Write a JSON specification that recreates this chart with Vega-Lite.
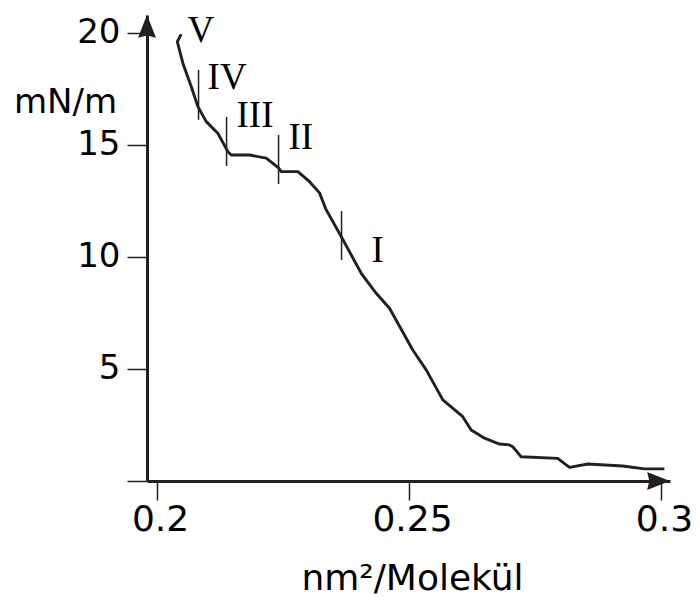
{
  "$schema": "https://vega.github.io/schema/vega-lite/v6.json",
  "autosize": "none",
  "width": 523,
  "height": 466,
  "padding": {"left": 147, "top": 15, "right": 30, "bottom": 116},
  "background": "white",
  "config": {"view": {"stroke": null}},
  "datasets": {
    "curve": [
      {"i": 1, "x": 0.20480, "y": 19.94},
      {"i": 2, "x": 0.20401, "y": 19.61},
      {"i": 3, "x": 0.20512, "y": 18.65},
      {"i": 4, "x": 0.20679, "y": 17.60},
      {"i": 5, "x": 0.20810, "y": 16.71},
      {"i": 6, "x": 0.20976, "y": 16.04},
      {"i": 7, "x": 0.21206, "y": 15.52},
      {"i": 8, "x": 0.21405, "y": 14.70},
      {"i": 9, "x": 0.21472, "y": 14.55},
      {"i": 10, "x": 0.21835, "y": 14.55},
      {"i": 11, "x": 0.22167, "y": 14.41},
      {"i": 12, "x": 0.22417, "y": 13.96},
      {"i": 13, "x": 0.22464, "y": 13.81},
      {"i": 14, "x": 0.22794, "y": 13.81},
      {"i": 15, "x": 0.23026, "y": 13.36},
      {"i": 16, "x": 0.23224, "y": 12.86},
      {"i": 17, "x": 0.23357, "y": 12.10},
      {"i": 18, "x": 0.23655, "y": 10.91},
      {"i": 19, "x": 0.24052, "y": 9.27},
      {"i": 20, "x": 0.24349, "y": 8.38},
      {"i": 21, "x": 0.24613, "y": 7.71},
      {"i": 22, "x": 0.25075, "y": 5.85},
      {"i": 23, "x": 0.25341, "y": 4.96},
      {"i": 24, "x": 0.25671, "y": 3.62},
      {"i": 25, "x": 0.26067, "y": 2.87},
      {"i": 26, "x": 0.26234, "y": 2.28},
      {"i": 27, "x": 0.26498, "y": 1.91},
      {"i": 28, "x": 0.26796, "y": 1.65},
      {"i": 29, "x": 0.26994, "y": 1.61},
      {"i": 30, "x": 0.27060, "y": 1.53},
      {"i": 31, "x": 0.27226, "y": 1.08},
      {"i": 32, "x": 0.27952, "y": 1.01},
      {"i": 33, "x": 0.28185, "y": 0.61},
      {"i": 34, "x": 0.28548, "y": 0.76},
      {"i": 35, "x": 0.29242, "y": 0.67},
      {"i": 36, "x": 0.29673, "y": 0.54},
      {"i": 37, "x": 0.30069, "y": 0.54}
    ],
    "markers": [
      {"x": 0.20823, "y": 18.35, "y2": 16.12},
      {"x": 0.21379, "y": 16.25, "y2": 14.06},
      {"x": 0.22411, "y": 15.45, "y2": 13.26},
      {"x": 0.23661, "y": 12.05, "y2": 9.87}
    ],
    "phases": [
      {"label": "V", "x": 0.20605, "y": 19.60},
      {"label": "IV", "x": 0.21002, "y": 17.50},
      {"label": "III", "x": 0.21577, "y": 15.80},
      {"label": "II", "x": 0.22609, "y": 14.82},
      {"label": "I", "x": 0.24256, "y": 9.78}
    ],
    "arrows": [
      {"dir": "up", "x": 0.198, "y": 20.27},
      {"dir": "right", "x": 0.29941, "y": 0}
    ]
  },
  "layer": [
    {
      "data": {"name": "curve"},
      "mark": {"type": "line", "color": "#231f20", "strokeWidth": 2.9, "strokeJoin": "round"},
      "encoding": {
        "x": {
          "field": "x", "type": "quantitative",
          "scale": {"domain": [0.198, 0.3018], "nice": false, "zero": false},
          "axis": {
            "values": [0.2, 0.25, 0.3],
            "format": "~g",
            "domain": true,
            "domainColor": "#231f20",
            "domainWidth": 3,
            "tickColor": "#231f20",
            "tickWidth": 1.5,
            "tickSize": 19,
            "labelFont": "DejaVu Sans",
            "labelFontSize": 36,
            "labelColor": "black",
            "labelPadding": 2,
            "labelOffset": 3,
            "labelFlush": false,
            "grid": false,
            "title": "nm²/Molekül",
            "titleFont": "DejaVu Sans",
            "titleFontSize": 36,
            "titleFontWeight": "normal",
            "titleColor": "black",
            "titleX": 265,
            "titleY": 108,
            "titleBaseline": "alphabetic",
            "titleAlign": "center"
          }
        },
        "y": {
          "field": "y", "type": "quantitative",
          "scale": {"domain": [0, 20.8], "nice": false},
          "axis": {
            "values": [0, 5, 10, 15, 20],
            "labelExpr": "datum.value == 0 ? '' : datum.label",
            "domain": true,
            "domainColor": "#231f20",
            "domainWidth": 3,
            "tickColor": "#231f20",
            "tickWidth": 1.5,
            "tickSize": 20,
            "labelFont": "DejaVu Sans",
            "labelFontSize": 34,
            "labelColor": "black",
            "labelPadding": 7,
            "labelFlush": false,
            "grid": false,
            "title": "mN/m",
            "titleFont": "DejaVu Sans",
            "titleFontSize": 34,
            "titleFontWeight": "normal",
            "titleColor": "black",
            "titleAngle": 0,
            "titleX": -82,
            "titleY": 97,
            "titleBaseline": "alphabetic",
            "titleAlign": "center"
          }
        },
        "order": {"field": "i", "type": "quantitative"}
      }
    },
    {
      "data": {"name": "markers"},
      "mark": {"type": "rule", "color": "#231f20", "strokeWidth": 1.5},
      "encoding": {
        "x": {"field": "x", "type": "quantitative"},
        "y": {"field": "y", "type": "quantitative"},
        "y2": {"field": "y2"}
      }
    },
    {
      "data": {"name": "phases"},
      "mark": {"type": "text", "font": "Liberation Serif", "fontSize": 37, "align": "left", "baseline": "alphabetic", "color": "black"},
      "encoding": {
        "x": {"field": "x", "type": "quantitative"},
        "y": {"field": "y", "type": "quantitative"},
        "text": {"field": "label"}
      }
    },
    {
      "data": {"name": "arrows"},
      "mark": {"type": "point", "filled": true, "color": "#231f20", "opacity": 1, "size": 576},
      "encoding": {
        "x": {"field": "x", "type": "quantitative"},
        "y": {"field": "y", "type": "quantitative"},
        "shape": {
          "field": "dir", "type": "nominal",
          "scale": {"domain": ["up", "right"], "range": ["M0,-1L0.75,0.9L0,0.72L-0.75,0.9Z", "M1,0L-0.9,0.75L-0.72,0L-0.9,-0.75Z"]},
          "legend": null
        }
      }
    }
  ]
}
